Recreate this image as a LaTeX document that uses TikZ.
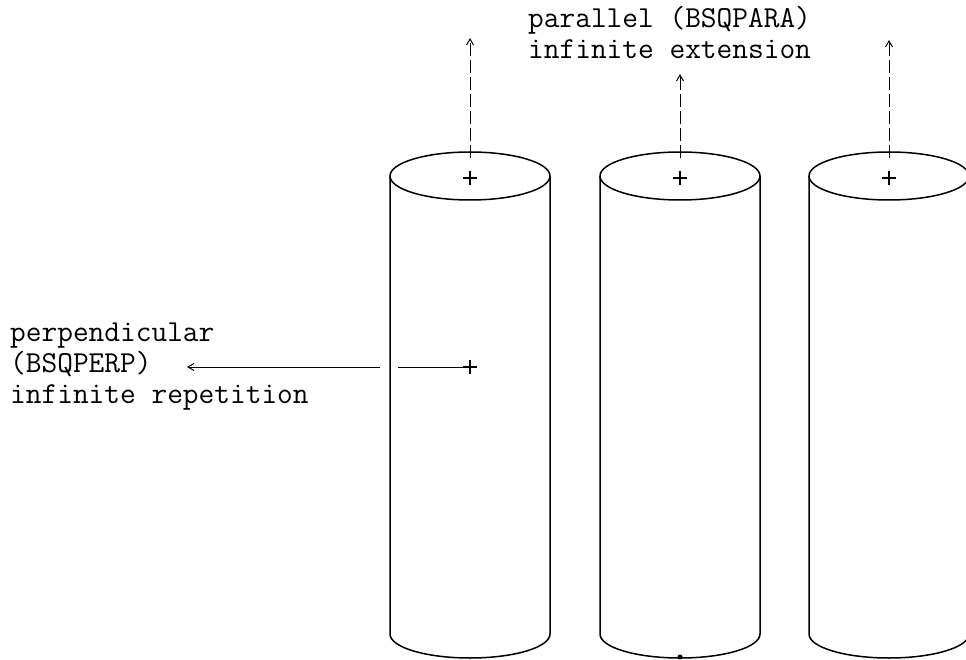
\documentclass[tikz,border=0pt]{standalone}
\usetikzlibrary{arrows.meta,calc}
\begin{document}
\begin{tikzpicture}[x=1pt,y=-1pt,
  outline/.style={line width=1.5pt, line join=round},
  cross/.style={line width=1.1pt},
  upward/.style={line width=1pt, dash pattern=on 13pt off 4pt, -{Straight Barb[length=6pt,width=7pt]}},
  sideways/.style={line width=1pt, -{Straight Barb[length=6pt,width=7pt]}},
  plain/.style={line width=1pt},
  caption/.style={font=\ttfamily\fontsize{30.5}{31}\selectfont, align=left, inner sep=0pt, anchor=base west}]
\useasboundingbox (0,0) rectangle (966,660);
\begin{scope}
  \clip (0,0) rectangle (966,660);
  % three cylinders, each with its axis marked at the top face
  \foreach \name/\cx/\tip in {c1/470/38, c2/680/74, c3/889/40} {
    \coordinate (\name-centre) at (\cx,178);
    \coordinate (\name-rim) at (\cx,158);
    \coordinate (\name-tip) at (\cx,\tip);
    \draw[outline] (\cx,176) ellipse [x radius=80, y radius=24];
    \draw[outline] (\cx-80,176) -- (\cx-80,634)
      arc[start angle=180, end angle=0, x radius=80, y radius=24]
      -- (\cx+80,176);
    \draw[cross] ($(\name-centre)+(-7,0)$) -- ($(\name-centre)+(7,0)$)
                 ($(\name-centre)+(0,-7)$) -- ($(\name-centre)+(0,7)$);
    \draw[upward] (\name-rim) -- (\name-tip);
  }
\end{scope}
\fill (680,657) circle (2.5);

% perpendicular direction, drawn from the axis of the first cylinder
\coordinate (perp) at (470,367);
\coordinate (wall-in) at (398,367);
\coordinate (wall-out) at (380,367);
\coordinate (perp-tip) at (187,367);
\draw[cross] ($(perp)+(-7,0)$) -- ($(perp)+(7,0)$)
             ($(perp)+(0,-7)$) -- ($(perp)+(0,7)$);
\draw[plain] (perp) -- (wall-in);
\draw[sideways] (wall-out) -- (perp-tip);

% multi-line captions: the anchor sits on the baseline of the last line
\node[caption] (para) at (528,59) {parallel (BSQPARA)\\infinite extension};
\node[caption] (perpend) at (10,403) {perpendicular\\(BSQPERP)\\infinite repetition};
\end{tikzpicture}
\end{document}
